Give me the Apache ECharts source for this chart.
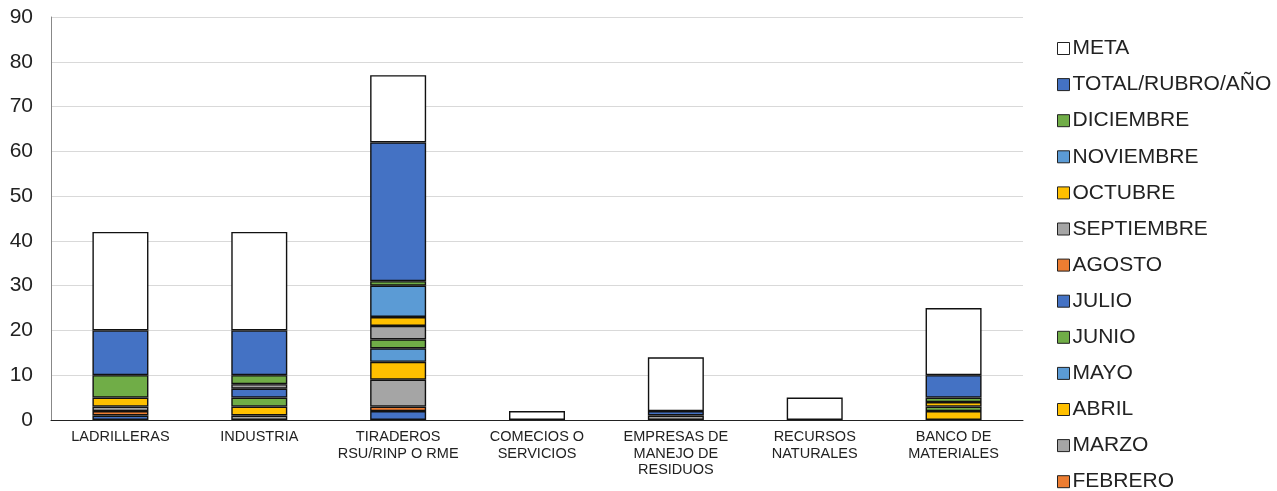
<!DOCTYPE html>
<html><head><meta charset="utf-8">
<script src="https://cdn.jsdelivr.net/npm/echarts@6/dist/echarts.min.js"></script>
<style>html,body{margin:0;padding:0;background:#fff}#c{width:1277px;height:491px}</style>
</head><body><div id="c"></div>
<script>
const categories = ["LADRILLERAS","INDUSTRIA","TIRADEROS\nRSU/RINP O RME","COMECIOS O\nSERVICIOS","EMPRESAS DE\nMANEJO DE\nRESIDUOS","RECURSOS\nNATURALES","BANCO DE\nMATERIALES"];
const yTicks = [0,10,20,30,40,50,60,70,80,90];
const ENERO      = [1,0,2,0,0,0,0];
const FEBRERO    = [1,0,1,0,0,0,0];
const MARZO      = [1,1,6,0,1,0,0];
const ABRIL      = [2,2,4,0,0,0,2];
const MAYO       = [0,0,3,0,0,0,0];
const JUNIO      = [5,2,2,0,0,0,1];
const JULIO      = [0,2,0,0,0,0,0];
const AGOSTO     = [0,0,0,0,0,0,0];
const SEPTIEMBRE = [0,1,3,0,0,0,0];
const OCTUBRE    = [0,0,2,0,0,0,1];
const NOVIEMBRE  = [0,0,7,0,0,0,0];
const DICIEMBRE  = [0,2,1,0,0,0,1];
const TOTAL      = [10,10,31,0,1,0,5];
const META       = [22,22,15,2,12,5,15];

const seriesDefs = [
  ["ENERO",ENERO,"#4472C4"],["FEBRERO",FEBRERO,"#ED7D31"],["MARZO",MARZO,"#A5A5A5"],
  ["ABRIL",ABRIL,"#FFC000"],["MAYO",MAYO,"#5B9BD5"],["JUNIO",JUNIO,"#70AD47"],
  ["JULIO",JULIO,"#4472C4"],["AGOSTO",AGOSTO,"#ED7D31"],["SEPTIEMBRE",SEPTIEMBRE,"#A5A5A5"],
  ["OCTUBRE",OCTUBRE,"#FFC000"],["NOVIEMBRE",NOVIEMBRE,"#5B9BD5"],["DICIEMBRE",DICIEMBRE,"#70AD47"],
  ["TOTAL/RUBRO/AÑO",TOTAL,"#4472C4"],["META",META,"#FFFFFF"]
];
const series = seriesDefs.map(([name,vals,color]) => ({
  name, type:'bar', stack:'s', barWidth:56,
  data: vals.map(v => v === 0 ? null : v),
  itemStyle:{color, borderColor:'#111', borderWidth:1.4},
  emphasis:{disabled:true}
}));
const chart = echarts.init(document.getElementById('c'));
chart.setOption({
  animation:false,
  textStyle:{fontFamily:'Liberation Sans, Arial, sans-serif'},
  grid:{left:51, right:254, top:17, bottom:71, containLabel:false},
  legend:{
    orient:'vertical', left:1057, top:38, height:800, padding:0,
    data: seriesDefs.map(d=>d[0]).reverse(),
    itemWidth:12, itemHeight:12, itemGap:15.1,
    icon:'rect',
    itemStyle:{borderColor:'#222', borderWidth:1},
    textStyle:{fontSize:21, color:'#222', padding:[0,0,0,-2]},
    selectedMode:false
  },
  xAxis:{
    type:'category', data:categories,
    axisLine:{lineStyle:{color:'#222', width:1}},
    axisTick:{show:false},
    axisLabel:{fontSize:14.5, color:'#222', lineHeight:16.5, interval:0, margin:9}
  },
  yAxis:{
    type:'value', min:0, max:90, interval:10,
    axisLine:{show:true, lineStyle:{color:'#888'}},
    axisTick:{show:false},
    axisLabel:{fontSize:21, color:'#222', margin:18},
    splitLine:{lineStyle:{color:'#d9d9d9', width:1}}
  },
  series
});
</script></body></html>
